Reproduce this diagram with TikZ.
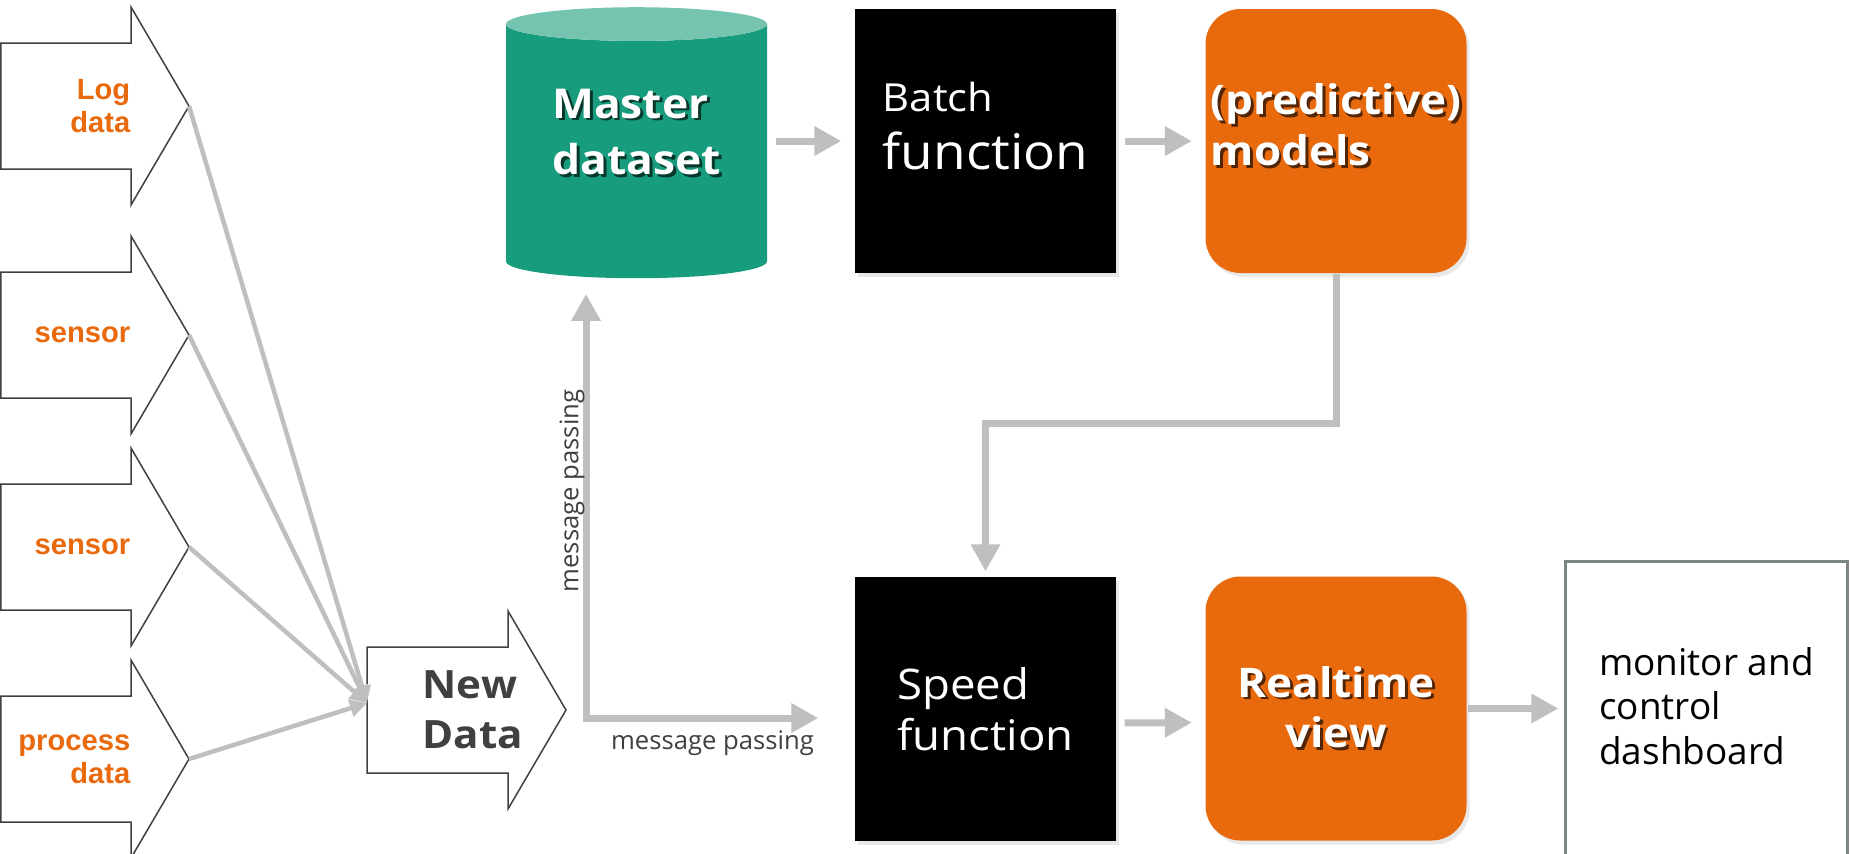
\documentclass[tikz,border=0pt]{standalone}
\usepackage{fontspec}
\setmainfont{Open Sans}
\newfontfamily\boxfont{Open Sans}[FakeStretch=1.08]
\newfontfamily\srcfont{Liberation Sans}
\usetikzlibrary{arrows.meta, shapes.geometric, shadows}

\definecolor{fhgreen}{RGB}{23,156,125}
\definecolor{fhgreentop}{RGB}{116,196,175}
\definecolor{fhorange}{RGB}{233,106,13}
\definecolor{flowgray}{RGB}{191,191,191}
\definecolor{linegray}{RGB}{64,64,64}
\definecolor{framegray}{RGB}{122,134,134}

% white text with a small dark shadow
\newcommand{\shd}[2][black!60]{\makebox[0pt][l]{\hspace{0.8pt}\raisebox{-0.8pt}{\textcolor{#1}{#2}}}#2}

% outlined block arrow: tip name, tail x, centre y, shaft end x
\newcommand{\blockarrow}[4]{%
  \draw[blockline] (#2,#3-0.63) -- (#4,#3-0.63) -- (#4,#3-0.99)
    -- (#4+0.58,#3) coordinate (#1) -- (#4,#3+0.99) -- (#4,#3+0.63)
    -- (#2,#3+0.63) -- cycle;}

\begin{document}
\begin{tikzpicture}[>=Stealth]
    \tikzset{
        blockline/.style={draw=linegray, line width=0.015cm, fill=white},
        srclabel/.style={anchor=east, inner sep=0pt, align=right, text=fhorange, font=\srcfont\bfseries\fontsize{8.3}{9.4}\selectfont},
        fbox/.style={minimum width=2.61cm, minimum height=2.64cm, inner sep=0pt, align=left, text=white, drop shadow={opacity=0.18, shadow xshift=0.03cm, shadow yshift=-0.04cm}},
        darkbox/.style={fbox, fill=black, font=\boxfont\fontsize{12}{14.5}\selectfont},
        orangebox/.style={fbox, fill=fhorange, rounded corners=0.35cm, font=\boxfont\bfseries\fontsize{11.6}{14.4}\selectfont},
        flow/.style={draw=flowgray, line width=0.07cm, -{Triangle[length=0.27cm, width=0.28cm]}, shorten <=0.08cm, shorten >=0.13cm},
        feed/.style={draw=flowgray, line width=0.045cm, -{Triangle[length=0.17cm, width=0.17cm]}},
        mplabel/.style={text=linegray, inner sep=0pt, font=\fontsize{7.3}{8}\selectfont},
    }
    \useasboundingbox (0,0) rectangle (18.51,8.53);

    % data sources
    \blockarrow{logtip}{0.01}{7.47}{1.31}
    \node[srclabel] (logdata) at (1.31,7.47) {Log\\data};
    \blockarrow{sensatip}{0.01}{5.18}{1.31}
    \node[srclabel] (sensora) at (1.31,5.18) {sensor};
    \blockarrow{sensbtip}{0.01}{3.06}{1.31}
    \node[srclabel] (sensorb) at (1.31,3.06) {sensor};
    \blockarrow{proctip}{0.01}{0.94}{1.31}
    \node[srclabel] (procdata) at (1.31,0.94) {process\\data};

    % new data
    \blockarrow{ndtip}{3.67}{1.43}{5.08}
    \node[anchor=west, inner sep=0pt, align=left, text=linegray, font=\boxfont\bfseries\fontsize{11.1}{14.2}\selectfont] (newdata) at (4.22,1.43) {New\\Data};
    \coordinate (ndin) at (3.67,1.50);
    \draw[feed] (logtip) -- (ndin);
    \draw[feed] (sensatip) -- (ndin);
    \draw[feed] (sensbtip) -- (ndin);
    \draw[feed] (proctip) -- (ndin);

    % batch layer
    \node[cylinder, shape border rotate=90, aspect=0.2, minimum width=2.61cm, minimum height=2.71cm, inner sep=0pt,
          cylinder uses custom fill, cylinder body fill=fhgreen, cylinder end fill=fhgreentop,
          align=left, text=white, font=\boxfont\bfseries\fontsize{11.7}{16.2}\selectfont] (master) at (6.365,7.015)
          {\shd[fhgreen!35!black]{Master}\\\shd[fhgreen!35!black]{dataset}\hspace*{0.3cm}\\[-5pt]\mbox{}};
    \node[darkbox, font=\boxfont\fontsize{14}{16.5}\selectfont] (batch) at (9.855,7.12) {{\fontsize{11}{16.5}\selectfont Batch}\\function\\[-8pt]\mbox{}};
    \node[orangebox] (models) at (13.36,7.12) {\shd[fhorange!35!black]{(predictive)}\\\shd[fhorange!35!black]{models}\\[-5pt]\mbox{}};

    % speed layer
    \node[darkbox] (speed) at (9.855,1.44) {Speed\\function};
    \node[orangebox, align=center] (realtime) at (13.36,1.445) {\shd[fhorange!35!black]{Realtime}\\\shd[fhorange!35!black]{view}};
    \node[minimum width=2.81cm, minimum height=2.88cm, inner sep=0pt, align=left, font=\fontsize{10.5}{12.7}\selectfont] (dash) at (17.065,1.47) {monitor and\\control\\dashboard};
    \draw[framegray, line width=0.025cm] ([yshift=-0.3cm]dash.south west) |- (dash.north east) -- ([yshift=-0.3cm]dash.south east);

    % flows
    \draw[flow] (master.east |- batch.west) -- (batch.west);
    \draw[flow] (batch.east) -- (models.west);
    \draw[flow, shorten <=0pt, shorten >=0.05cm] (models.south) -- ++(0,-1.5) -| (speed.north);
    \draw[flow] ([yshift=-0.14cm]speed.east) -- ([yshift=-0.14cm]realtime.west);
    \draw[flow, shorten <=0.01cm, shorten >=0.07cm] (realtime.east) -- (realtime.east -| dash.west);

    % message passing
    \coordinate (mpcorner) at ([xshift=0.2cm, yshift=-0.08cm]ndtip);
    \draw[flow, {Triangle[length=0.27cm, width=0.28cm]}-{Triangle[length=0.27cm, width=0.28cm]}, shorten <=0.15cm, shorten >=0.36cm]
        (master.south -| mpcorner) -- (mpcorner) -- (mpcorner -| speed.west);
    \node[mplabel, rotate=90] (mpup) at (5.72,3.62) {message passing};
    \node[mplabel] (mpright) at (7.125,1.095) {message passing};
\end{tikzpicture}
\end{document}
